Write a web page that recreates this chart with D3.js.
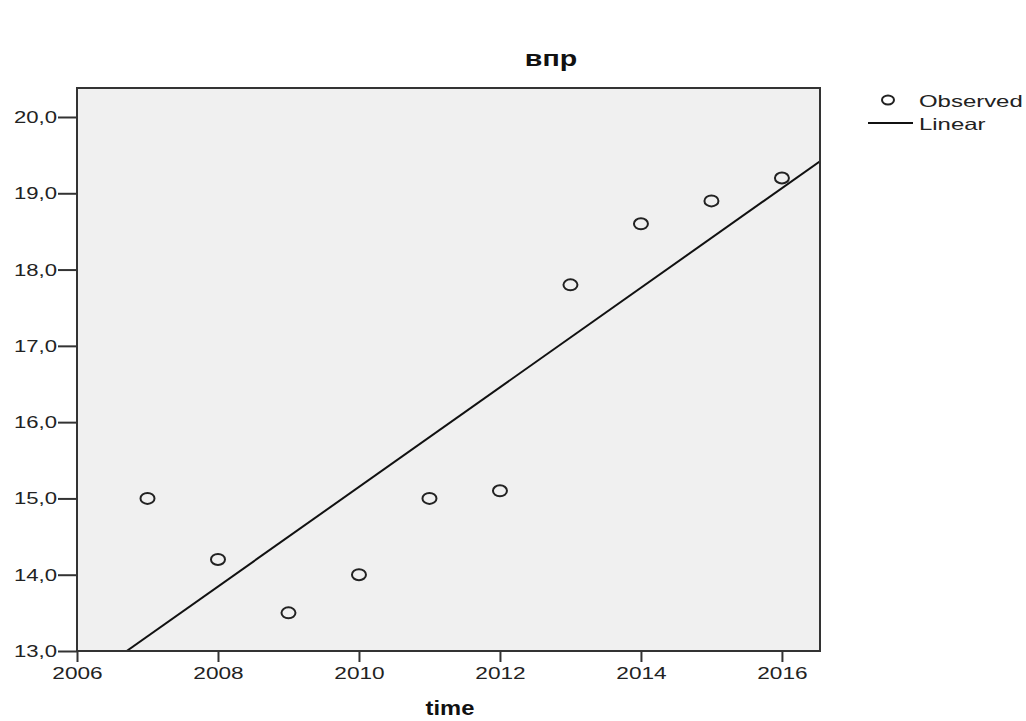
<!DOCTYPE html>
<html>
<head>
<meta charset="utf-8">
<script src="https://cdn.jsdelivr.net/npm/d3@7"></script>
<style>
  body { margin: 0; background: #fff; }
  svg { font-family: "Liberation Sans", Arial, sans-serif; }
</style>
</head>
<body>
<div id="chart"></div>
<script>
// Data
const years = [2007, 2008, 2009, 2010, 2011, 2012, 2013, 2014, 2015, 2016];
const values = [15.0, 14.2, 13.5, 14.0, 15.0, 15.1, 17.8, 18.6, 18.9, 19.2];
const xTicks = [2006, 2008, 2010, 2012, 2014, 2016];
const yTicks = [13, 14, 15, 16, 17, 18, 19, 20];
const legendLabels = ["Observed", "Linear"];

const W = 1026, H = 721;
const plot = { left: 77, top: 88, right: 820, bottom: 651 };

// The original is horizontally stretched, so widen glyphs a bit
function stretch(sel, k) {
    sel.each(function () {
        const len = this.getComputedTextLength();
        d3.select(this)
            .attr("textLength", len * k)
            .attr("lengthAdjust", "spacingAndGlyphs");
    });
}

const svg = d3.select("#chart").append("svg")
    .attr("width", W)
    .attr("height", H);

const xScale = d3.scaleLinear()
    .domain([2006, 2016.54])
    .range([plot.left, plot.right]);

const yScale = d3.scaleLinear()
    .domain([13, 20.38])
    .range([plot.bottom, plot.top]);

// Title
svg.append("text")
    .attr("x", 551)
    .attr("y", 66)
    .attr("text-anchor", "middle")
    .style("font-size", "22px")
    .style("font-weight", "bold")
    .attr("fill", "#111")
    .text("впр")
    .call(stretch, 1.3);

// Plot background
svg.append("rect")
    .attr("x", plot.left)
    .attr("y", plot.top)
    .attr("width", plot.right - plot.left)
    .attr("height", plot.bottom - plot.top)
    .attr("fill", "#f0f0f0");

svg.append("clipPath").attr("id", "clip")
    .append("rect")
    .attr("x", plot.left)
    .attr("y", plot.top)
    .attr("width", plot.right - plot.left)
    .attr("height", plot.bottom - plot.top);

// Linear fit computed from the observations
const mx = d3.mean(years), my = d3.mean(values);
const slope = d3.sum(years, (x, i) => (x - mx) * (values[i] - my)) /
    d3.sum(years, x => (x - mx) * (x - mx));
const fit = x => my + slope * (x - mx);
const x0 = mx + (13 - my) / slope;
const x1 = 2016.54;

svg.append("line")
    .attr("clip-path", "url(#clip)")
    .attr("x1", xScale(x0))
    .attr("y1", yScale(fit(x0)))
    .attr("x2", xScale(x1))
    .attr("y2", yScale(fit(x1)))
    .attr("stroke", "#111")
    .attr("stroke-width", 2);

// Observed points
svg.selectAll("ellipse.pt")
    .data(years)
    .enter()
    .append("ellipse")
    .attr("class", "pt")
    .attr("cx", (d) => xScale(d))
    .attr("cy", (d, i) => yScale(values[i]))
    .attr("rx", 7)
    .attr("ry", 5.5)
    .attr("fill", "none")
    .attr("stroke", "#222")
    .attr("stroke-width", 2);

// Frame
svg.append("rect")
    .attr("x", plot.left)
    .attr("y", plot.top)
    .attr("width", plot.right - plot.left)
    .attr("height", plot.bottom - plot.top)
    .attr("fill", "none")
    .attr("stroke", "#333")
    .attr("stroke-width", 2);

// Axes
const yAxis = d3.axisLeft(yScale)
    .tickValues(yTicks)
    .tickSize(19)
    .tickPadding(1)
    .tickFormat(d => d3.format(".1f")(d).replace(".", ","));

const yAxisG = svg.append("g")
    .attr("transform", `translate(${plot.left},0)`)
    .call(yAxis);
yAxisG.select(".domain").remove();
yAxisG.selectAll("line").attr("stroke", "#333").attr("stroke-width", 2);
yAxisG.selectAll("text")
    .style("font-size", "17px")
    .style("font-family", "'Liberation Sans', Arial, sans-serif")
    .attr("fill", "#222")
    .call(stretch, 1.3);

const xAxis = d3.axisBottom(xScale)
    .tickValues(xTicks)
    .tickSize(11)
    .tickPadding(5)
    .tickFormat(d3.format("d"));

const xAxisG = svg.append("g")
    .attr("transform", `translate(0,${plot.bottom})`)
    .call(xAxis);
xAxisG.select(".domain").remove();
xAxisG.selectAll("line").attr("stroke", "#333").attr("stroke-width", 2);
xAxisG.selectAll("text")
    .style("font-size", "17px")
    .style("font-family", "'Liberation Sans', Arial, sans-serif")
    .attr("fill", "#222")
    .call(stretch, 1.33);

// x-axis title
svg.append("text")
    .attr("x", 450)
    .attr("y", 715)
    .attr("text-anchor", "middle")
    .style("font-size", "21px")
    .style("font-weight", "bold")
    .attr("fill", "#111")
    .text("time")
    .call(stretch, 1.13);

// Legend
const legend = svg.append("g");
legend.append("ellipse")
    .attr("cx", 888)
    .attr("cy", 100)
    .attr("rx", 6)
    .attr("ry", 4.5)
    .attr("fill", "none")
    .attr("stroke", "#222")
    .attr("stroke-width", 2);
legend.append("line")
    .attr("x1", 868)
    .attr("x2", 913)
    .attr("y1", 123)
    .attr("y2", 123)
    .attr("stroke", "#111")
    .attr("stroke-width", 2);
legend.selectAll("text")
    .data(legendLabels)
    .enter()
    .append("text")
    .attr("x", 919)
    .attr("y", (d, i) => 107 + i * 23)
    .style("font-size", "16.5px")
    .style("font-family", "'Liberation Sans', Arial, sans-serif")
    .attr("fill", "#222")
    .text(d => d)
    .call(stretch, 1.45);
</script>
</body>
</html>
